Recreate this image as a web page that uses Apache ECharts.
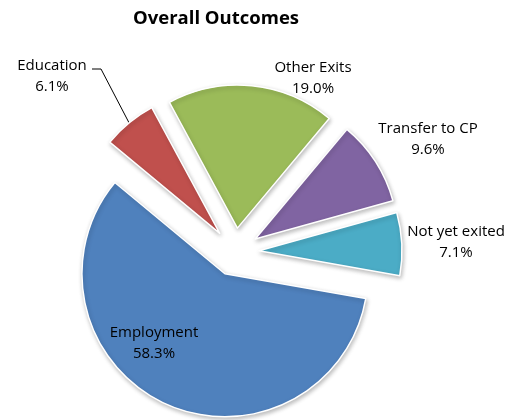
<!DOCTYPE html>
<html>
<head>
<meta charset="utf-8">
<script src="https://cdn.jsdelivr.net/npm/echarts@6/dist/echarts.min.js"></script>
<style>
  html, body { margin: 0; padding: 0; background: #fff; }
  #main { width: 508px; height: 420px; }
</style>
</head>
<body>
<div id="main"></div>
<script>
// data
const categories = ['Employment', 'Education', 'Other Exits', 'Transfer to CP', 'Not yet exited'];
const shares = [58.3, 6.1, 19.0, 9.6, 7.1];

// styles / layout
const sliceColors = ['#4F81BD', '#C0504D', '#9BBB59', '#8064A2', '#4BACC6'];
const labelCenters = [[154, 343], [52, 76], [313, 78], [428, 139], [456, 242]];
const pieCenter = [235, 252];
const pieRadius = 143;
const explode = 24;
const startAngle = -10;

let chart = echarts.init(document.getElementById('main'), null, { renderer: 'canvas' });

// direction (unit vector, screen coords) of the middle of slice i
function midDir(i) {
  const total = shares.reduce((a, b) => a + b, 0);
  let before = 0;
  for (let k = 0; k < i; k++) before += shares[k];
  const mid = (startAngle - (before + shares[i] / 2) / total * 360) * Math.PI / 180;
  return [Math.cos(mid), -Math.sin(mid)];
}

// each slice gets its own pie, shifted out along its middle (exploded pie)
let series = categories.map((cat, i) => {
  const dir = midDir(i);
  const c = [pieCenter[0] + dir[0] * explode, pieCenter[1] + dir[1] * explode];
  return {
    type: 'pie',
    name: cat,
    center: c,
    radius: pieRadius,
    startAngle: startAngle,
    clockwise: true,
    avoidLabelOverlap: false,
    emphasis: { disabled: true },
    label: {
      show: false,
      position: 'inside',
      fontFamily: 'Open Sans',
      fontSize: 15,
      lineHeight: 21,
      color: '#000',
      formatter: p => p.name + '\n' + p.value.toFixed(1) + '%'
    },
    labelLine: { show: false },
    labelLayout: function (params) {
      const lc = labelCenters[i];
      const res = { x: lc[0], y: lc[1], align: 'center', verticalAlign: 'middle' };
      if (i === 1) {
        // leader line from the label to the middle of the slice's arc
        const tip = [c[0] + dir[0] * pieRadius, c[1] + dir[1] * pieRadius];
        res.labelLinePoints = [[92, 69], [101, 69], tip];
      }
      return res;
    },
    data: categories.map((name, k) => {
      const on = k === i;
      return {
        name: name,
        value: shares[k],
        itemStyle: on ? {
          color: sliceColors[k],
          borderColor: '#fff',
          borderWidth: 1.5,
          shadowBlur: 4,
          shadowOffsetX: 1,
          shadowOffsetY: 2,
          shadowColor: 'rgba(0,0,0,0.25)'
        } : { color: 'rgba(0,0,0,0)', borderWidth: 0 },
        label: { show: on, position: i === 1 ? 'outside' : 'inside' },
        labelLine: { show: on && i === 1, lineStyle: { color: '#000', width: 1 } }
      };
    })
  };
});

let option = {
  animation: false,
  backgroundColor: '#fff',
  title: {
    text: 'Overall Outcomes',
    left: 211,
    top: 4,
    textAlign: 'center',
    textStyle: {
      fontFamily: 'Open Sans',
      fontWeight: 'bold',
      fontSize: 18.5,
      color: '#000'
    }
  },
  series: series
};

chart.setOption(option);
</script>
</body>
</html>
